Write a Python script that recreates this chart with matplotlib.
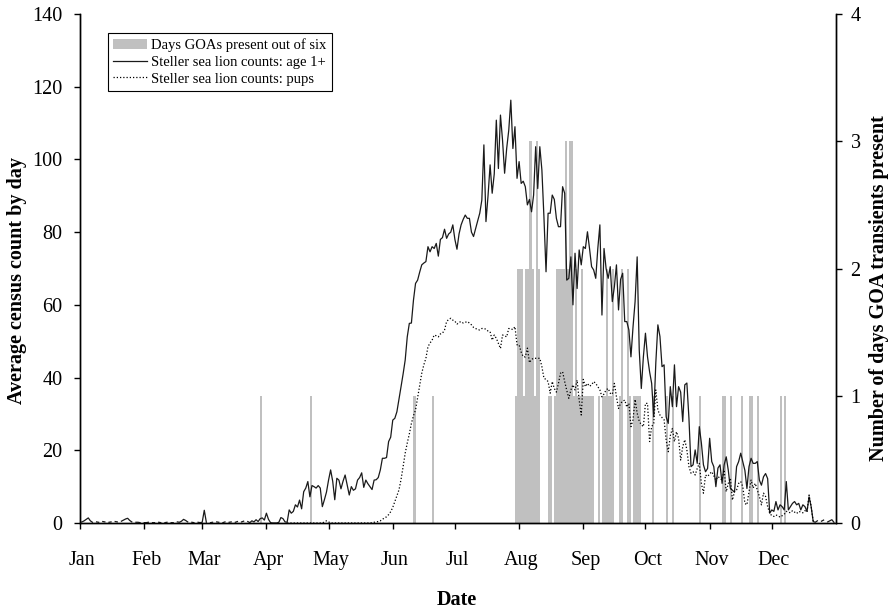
import numpy as np
import matplotlib
matplotlib.use("Agg")
import matplotlib.pyplot as plt
from matplotlib.patches import Patch
from matplotlib.lines import Line2D

plt.rcParams['font.family'] = ['Liberation Serif', 'DejaVu Serif']

# month starts (day of year, 0 = 1 Jan) and labels
month_starts = [0, 31, 59, 90, 120, 151, 181, 212, 243, 273, 304, 334]
month_names = ["Jan", "Feb", "Mar", "Apr", "May", "Jun",
               "Jul", "Aug", "Sep", "Oct", "Nov", "Dec"]

# Steller sea lion counts, age 1+ (one value per day, None = no count)
age1_jan = [0.2, 0.3, 0.6, 1.0, 1.4, 0.6, 0.2, None, 0.3, 0.2, None, 0.4, 0.3, None, 0.2, 0.3,
            None, 0.4, 0.3, None, 0.5, 0.8, 1.1, 1.3, 0.7, 0.3, None, 0.2, 0.2, 0.1, None]
age1_feb = [0.1, 0.1, 0.2, None, 0.1, 0.1, None, 0.2, 0.1, None, 0.1, 0.2, None, 0.1,
            0.1, None, 0.3, 0.2, 0.5, 1.0, 0.7, 0.3, None, 0.2, 0.1, None, 0.2, 0.1]
age1_mar = [0.2, 3.5, 0.2, None, 0.1, 0.2, None, 0.3, 0.2, None, 0.1, 0.3, None, 0.2, 0.3, None,
            0.2, 0.4, None, 0.3, 0.5, None, 0.4, 0.1, 0.6, 0.3, 0.9, 0.4, 1.2, 1.4, 0.8]
age1_apr = [2.7, 1.0, 0.1, 0.0, 0.0, 0.0, 0.2, 1.5, 1.2, 0.3, 0.2, 3.6, 2.7, 3.2, 5.0,
            4.4, 6.3, 3.9, 8.6, 9.6, 11.4, 7.2, 10.3, 10.0, 9.6, 10.3, 9.6, 4.5, 6.4, 8.5]
age1_may = [11.8, 14.6, 11.5, 6.4, 12.3, 11.8, 9.4, 11.5, 13.2, 10.5, 7.7, 10.0, 9.0, 9.4, 11.8, 12.5,
            13.8, 9.8, 11.8, 10.8, 10.0, 9.2, 11.8, 11.9, 12.5, 14.6, 17.8, 17.8, 18.0, 22.4, 23.6]
age1_jun = [28.3, 28.8, 30.6, 34.0, 37.5, 41.0, 44.8, 51.2, 54.9, 55.0, 61.3, 65.9, 66.8, 69.0, 71.0,
            71.5, 71.9, 76.0, 74.6, 76.0, 75.5, 76.9, 73.4, 78.0, 78.5, 80.8, 78.3, 79.5, 80.0, 82.0]
age1_jul = [78.0, 75.3, 79.5, 82.0, 83.5, 84.7, 83.8, 83.8, 80.0, 78.8, 81.0, 83.1, 85.2, 88.8, 104.0, 82.9,
            90.0, 98.5, 90.7, 96.0, 110.8, 97.5, 112.2, 105.3, 96.2, 103.0, 108.0, 116.3, 103.0, 109.0, 94.8]
age1_aug = [99.4, 93.4, 94.0, 92.5, 87.5, 89.0, 85.6, 90.2, 103.5, 92.0, 103.5, 97.1, 84.0, 69.1, 85.2, 85.2,
            90.2, 89.0, 83.8, 81.5, 81.5, 92.5, 90.7, 66.8, 67.3, 73.2, 60.0, 74.2, 64.5, 75.1, 71.0]
age1_sep = [76.0, 75.5, 80.1, 75.5, 70.5, 69.6, 67.3, 75.5, 82.0, 57.2, 75.5, 70.0, 67.3, 70.5, 60.9,
            65.0, 71.0, 58.6, 67.0, 68.7, 55.4, 55.4, 53.1, 45.7, 53.9, 60.9, 73.2, 47.6, 37.0, 45.7]
age1_oct = [52.2, 45.7, 41.6, 38.4, 29.2, 44.0, 54.5, 51.3, 43.0, 43.5, 29.2, 27.4, 37.5, 32.0, 43.5, 32.0,
            37.5, 36.0, 27.9, 38.0, 38.5, 28.8, 15.5, 16.0, 20.1, 16.4, 26.5, 22.0, 16.0, 14.1, 15.0]
age1_nov = [23.3, 16.9, 15.5, 10.0, 15.1, 16.0, 10.9, 16.0, 18.2, 14.5, 9.5, 9.0, 8.5, 15.5, 16.9,
            19.2, 16.9, 14.5, 9.5, 15.5, 17.8, 16.4, 16.4, 16.9, 11.8, 10.4, 12.7, 13.6, 12.2, 2.7]
age1_dec = [3.6, 3.2, 5.9, 3.6, 5.0, 4.5, 3.6, 11.4, 3.6, 4.5, 5.4, 5.9, 5.0, 5.4, 3.6, 5.0,
            4.5, 3.2, 7.2, 4.5, 0.4, 0.2, 0.6, None, 0.5, 0.8, None, 0.3, 0.6, 0.9, 0.2]

# Steller sea lion counts, pups (daily, starting 10 Apr = day 100)
pups_first_day = 100
pups = [0.0, 0.0, 0.0, 0.0, 0.0, 0.0, 0.0, 0.0, 0.0, 0.0,
        0.0, 0.0, 0.0, 0.0, 0.0, 0.0, 0.0, 0.0, 0.3, 0.6,
        0.3, 0.0, 0.0, 0.0, 0.0, 0.0, 0.0, 0.0, 0.0, 0.0,
        0.0, 0.0, 0.0, 0.0, 0.0, 0.0, 0.0, 0.0, 0.0, 0.0,
        0.0, 0.1, 0.2, 0.3, 0.4,
        0.6, 1.0, 1.4, 1.7, 2.3, 3.1, 4.3, 5.9, 7.5, 9.1,
        12.0, 15.5, 19.2, 22.0, 24.5, 27.4, 29.5, 31.1, 34.5, 38.0,
        41.2, 43.5, 45.3, 48.5, 49.5, 50.3, 51.7, 51.5, 51.2, 52.0,
        52.2, 53.1, 55.4, 56.0, 56.3, 55.8, 55.5, 54.7, 55.2, 55.4,
        55.0, 55.2, 55.4, 55.0, 54.5, 53.8, 53.5, 53.2, 53.1, 53.5,
        53.5, 53.3, 52.8, 52.6, 50.3, 51.7, 50.8, 49.4, 48.0, 51.7,
        51.5, 51.2, 53.5, 53.4, 53.2, 54.0, 49.0, 49.0, 47.0, 45.7,
        45.7, 48.1, 44.1, 45.0, 45.3, 45.3, 45.3, 45.3, 43.0, 39.8,
        39.5, 38.9, 35.7, 38.9, 37.0, 36.0, 38.4, 41.2, 41.6, 38.9,
        36.5, 34.3, 36.6, 38.0, 36.6, 39.3, 33.8, 29.7, 39.5, 37.5,
        38.4, 37.6, 38.0, 38.9, 38.4, 37.5, 36.6, 34.7, 35.5, 36.6,
        37.0, 35.7, 35.4, 38.4, 34.7, 31.5, 32.9, 33.5, 33.8, 31.9,
        32.9, 26.5, 28.4, 34.0, 30.2, 28.0, 27.0, 26.5, 32.9, 32.9,
        22.4, 26.5, 27.4, 36.6, 31.1, 29.7, 29.0, 28.4, 22.8, 19.6,
        24.0, 26.0, 22.4, 25.1, 23.3, 17.3, 21.0, 22.9, 20.1, 15.5,
        13.7, 14.1, 13.2, 15.0, 16.4, 10.9, 8.2, 13.2, 12.8, 13.5,
        14.1, 13.0, 11.8, 12.8, 12.3, 11.8, 14.6, 8.6, 10.9, 12.3,
        6.3, 8.6, 9.1, 10.9, 11.4, 10.0, 5.4, 5.0, 8.6, 11.8,
        9.6, 10.9, 9.1, 7.3, 5.0, 8.2, 7.3, 4.5, 2.7, 2.0,
        1.8, 2.2, 2.0, 1.6, 2.0, 2.4, 3.2, 3.0, 2.8, 3.4,
        3.0, 2.6, 3.2, 3.0, 2.8, 3.4, 3.0, 7.7, 4.5, 0.4]

# days with GOA transients present, and how many of the six years
goa_days = [87, 111, 161, 170,
            210, 211, 212, 213, 214, 215, 216, 217, 218, 219, 220, 221,
            226, 227,
            229, 230, 231, 232, 233, 234, 235, 236, 237, 238, 239, 240, 241, 242, 243, 244, 245, 246, 247,
            250, 252, 253, 254, 255, 256, 257, 260, 261, 264, 265, 267, 268, 269, 270,
            276, 283, 286, 299, 310, 311, 314, 319, 323, 324, 327, 338, 340]
goa_counts = [1, 1, 1, 1,
              1, 2, 2, 2, 1, 2, 2, 3, 2, 1, 3, 2,
              1, 1,
              1, 2, 2, 2, 2, 3, 2, 3, 3, 1, 2, 1, 1, 2, 1, 1, 1, 1, 1,
              1, 1, 1, 2, 1, 1, 2, 1, 2, 2, 1, 1, 1, 1, 1,
              1, 1, 1, 1, 1, 1, 1, 1, 1, 1, 1, 1, 1]

age1 = np.array(age1_jan + age1_feb + age1_mar + age1_apr + age1_may + age1_jun +
                age1_jul + age1_aug + age1_sep + age1_oct + age1_nov + age1_dec, dtype=float)
days = np.arange(len(age1))
pup_days = np.arange(pups_first_day, pups_first_day + len(pups))

fig = plt.figure(figsize=(8.92, 6.09), dpi=100)
ax = fig.add_axes([80 / 892, 86 / 609, 756 / 892, 509 / 609])
ax2 = ax.twinx()

bar_col = '#c0c0c0'
ax2.bar(goa_days, goa_counts, width=1.0, align='edge', color=bar_col, linewidth=0)
ax.plot(days, age1, color='#1a1a1a', lw=0.9)
ax.plot(pup_days, pups, color='black', lw=0.9, linestyle=(0, (1, 1.6)))

ax.set_zorder(ax2.get_zorder() + 1)
ax.patch.set_visible(False)

ax.set_xlim(0, 365)
ax.set_ylim(0, 140)
ax2.set_ylim(0, 4)
ax.set_yticks(range(0, 141, 20))
ax2.set_yticks(range(0, 5))

ax.set_xticks(month_starts)
ax.set_xticklabels([])
ax.set_xticks([m + 1 for m in month_starts], minor=True)
ax.set_xticklabels(month_names, minor=True)
ax.tick_params(axis='x', which='major', direction='out', length=4.5, width=1)
ax.tick_params(axis='x', which='minor', length=0, pad=20, labelsize=14.5)
ax.tick_params(axis='y', direction='out', length=4.5, width=1, pad=8, labelsize=14.5)
ax2.tick_params(axis='y', direction='out', length=4.5, width=1, pad=6, labelsize=14.5)

for a in (ax, ax2):
    a.spines['top'].set_visible(False)
    for s in ('left', 'right', 'bottom'):
        a.spines[s].set_linewidth(1.0)

fig.text(17 / 892, 1 - 280 / 609, "Average census count by day", rotation=90,
         ha='center', va='center', fontsize=14.5, fontweight='bold')
fig.text(879 / 892, 1 - 288 / 609, "Number of days GOA transients present", rotation=90,
         ha='center', va='center', fontsize=14.5, fontweight='bold')
fig.text(457 / 892, 1 - 600 / 609, "Date", ha='center', va='center',
         fontsize=14.5, fontweight='bold')

handles = [Patch(facecolor=bar_col, edgecolor='none'),
           Line2D([], [], color='#1a1a1a', lw=0.9),
           Line2D([], [], color='black', lw=0.9, linestyle=(0, (1, 1.6)))]
labels = ["Days GOAs present out of six",
          "Steller sea lion counts: age 1+",
          "Steller sea lion counts: pups"]
leg = ax.legend(handles, labels, loc='upper left', bbox_to_anchor=(108 / 892, 1 - 33 / 609),
                bbox_transform=fig.transFigure, fontsize=10.5, frameon=True, fancybox=False,
                framealpha=1, edgecolor='black', handlelength=2.3, handletextpad=0.3,
                labelspacing=0.25, borderpad=0.35, borderaxespad=0)
leg.get_frame().set_linewidth(0.8)

fig.savefig("out.png", dpi=100)
